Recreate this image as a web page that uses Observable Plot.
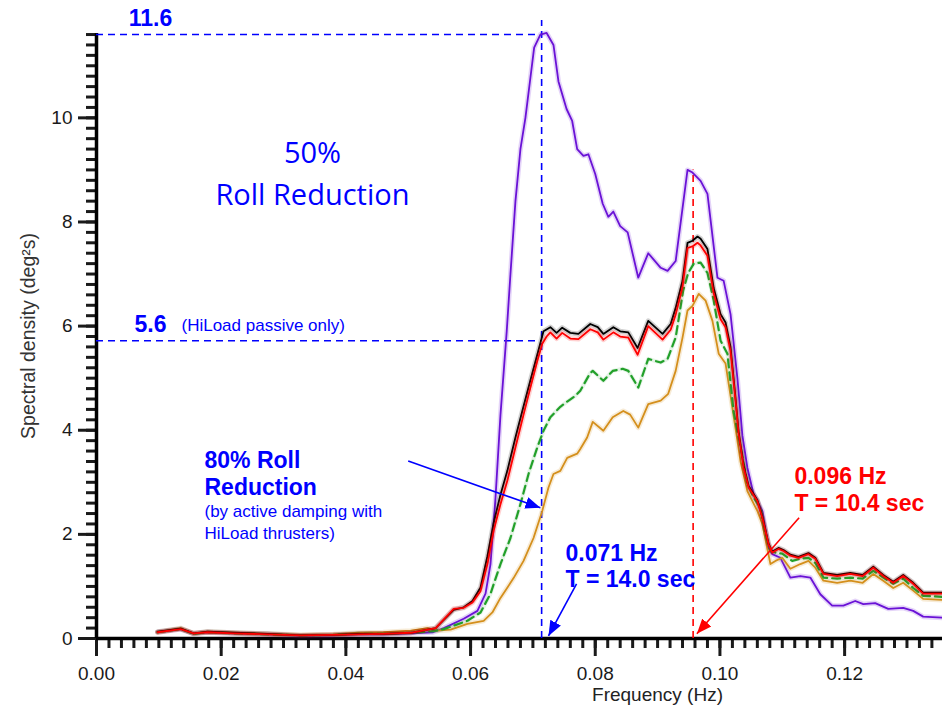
<!DOCTYPE html>
<html>
<head>
<meta charset="utf-8">
<script src="https://cdn.jsdelivr.net/npm/d3@7"></script>
<script src="https://cdn.jsdelivr.net/npm/@observablehq/plot@0.6"></script>
<style>
  html, body { margin: 0; padding: 0; background: #fff; }
  #chart { width: 942px; height: 715px; }
</style>
</head>
<body>
<div id="chart"></div>
<script>
// ---- data: [frequency (Hz), spectral density (deg^2 s)] ----
const noDamping = [[0.0098,0.12],[0.0135,0.18],[0.0156,0.09],[0.0178,0.12],[0.0220,0.10],[0.0274,0.08],[0.0327,0.05],[0.0380,0.06],[0.0420,0.08],[0.0460,0.08],[0.0504,0.10],[0.0540,0.12],[0.0557,0.20],[0.0589,0.38],[0.0611,0.53],[0.0624,0.86],[0.0632,1.43],[0.0640,2.70],[0.0648,4.30],[0.0658,5.90],[0.0664,7.00],[0.0672,8.40],[0.0680,9.40],[0.0688,10.00],[0.0696,10.77],[0.0702,11.35],[0.0712,11.60],[0.0722,11.63],[0.0733,11.40],[0.0741,10.70],[0.0754,10.17],[0.0763,9.94],[0.0771,9.40],[0.0781,9.27],[0.0789,9.30],[0.0800,8.92],[0.0812,8.35],[0.0821,8.10],[0.0829,8.20],[0.0840,7.92],[0.0852,7.80],[0.0869,6.93],[0.0885,7.40],[0.0905,7.12],[0.0916,7.06],[0.0929,7.25],[0.0948,9.00],[0.0956,8.95],[0.0969,8.79],[0.0980,8.54],[0.0996,6.93],[0.1006,6.87],[0.1017,6.23],[0.1028,5.00],[0.1036,3.90],[0.1044,3.28],[0.1054,2.77],[0.1068,2.45],[0.1078,1.74],[0.1084,1.62],[0.1097,1.55],[0.1113,1.17],[0.1129,1.20],[0.1145,1.17],[0.1161,0.85],[0.1180,0.63],[0.1198,0.63],[0.1217,0.72],[0.1230,0.66],[0.1249,0.68],[0.1270,0.57],[0.1294,0.59],[0.1310,0.53],[0.1326,0.42],[0.1357,0.40]];

const hiLoadPassive = [[0.0098,0.13],[0.0135,0.19],[0.0156,0.10],[0.0178,0.13],[0.0220,0.11],[0.0274,0.09],[0.0327,0.06],[0.0380,0.07],[0.0420,0.09],[0.0460,0.09],[0.0504,0.11],[0.0544,0.20],[0.0573,0.55],[0.0589,0.60],[0.0603,0.72],[0.0616,0.98],[0.0627,1.58],[0.0637,2.22],[0.0648,2.76],[0.0659,3.22],[0.0672,3.86],[0.0685,4.46],[0.0696,4.96],[0.0707,5.45],[0.0717,5.90],[0.0728,5.98],[0.0738,5.87],[0.0747,5.97],[0.0760,5.87],[0.0773,5.85],[0.0792,6.04],[0.0804,5.98],[0.0813,5.85],[0.0829,5.98],[0.0840,5.90],[0.0853,5.88],[0.0868,5.58],[0.0885,6.10],[0.0908,5.85],[0.0921,6.04],[0.0929,6.35],[0.0940,6.87],[0.0948,7.60],[0.0956,7.64],[0.0964,7.72],[0.0969,7.68],[0.0980,7.48],[0.0990,6.73],[0.1001,6.23],[0.1009,6.07],[0.1017,5.60],[0.1025,4.62],[0.1030,3.97],[0.1038,3.32],[0.1046,2.93],[0.1060,2.66],[0.1068,2.34],[0.1078,1.82],[0.1084,1.67],[0.1094,1.74],[0.1102,1.70],[0.1113,1.61],[0.1126,1.57],[0.1142,1.64],[0.1153,1.55],[0.1166,1.26],[0.1188,1.22],[0.1209,1.26],[0.1229,1.22],[0.1246,1.38],[0.1262,1.22],[0.1278,1.09],[0.1294,1.22],[0.1310,1.07],[0.1326,0.88],[0.1357,0.88]];

const activeRed = [[0.0098,0.12],[0.0135,0.18],[0.0156,0.10],[0.0178,0.12],[0.0220,0.10],[0.0274,0.08],[0.0327,0.06],[0.0380,0.07],[0.0420,0.08],[0.0460,0.09],[0.0504,0.11],[0.0544,0.20],[0.0573,0.57],[0.0589,0.59],[0.0603,0.69],[0.0616,0.91],[0.0627,1.43],[0.0637,2.07],[0.0648,2.58],[0.0659,3.03],[0.0672,3.67],[0.0685,4.30],[0.0696,4.82],[0.0707,5.33],[0.0715,5.66],[0.0722,5.80],[0.0728,5.88],[0.0738,5.76],[0.0747,5.87],[0.0760,5.76],[0.0773,5.75],[0.0792,5.94],[0.0804,5.88],[0.0813,5.74],[0.0829,5.88],[0.0840,5.80],[0.0853,5.78],[0.0868,5.45],[0.0885,6.00],[0.0908,5.74],[0.0921,5.93],[0.0929,6.22],[0.0940,6.75],[0.0948,7.50],[0.0956,7.53],[0.0964,7.60],[0.0969,7.55],[0.0980,7.35],[0.0990,6.63],[0.1001,6.13],[0.1009,5.98],[0.1017,5.52],[0.1025,4.57],[0.1030,3.93],[0.1038,3.28],[0.1046,2.90],[0.1060,2.64],[0.1068,2.32],[0.1078,1.81],[0.1084,1.65],[0.1094,1.72],[0.1102,1.68],[0.1113,1.59],[0.1126,1.55],[0.1142,1.62],[0.1153,1.53],[0.1166,1.24],[0.1188,1.20],[0.1209,1.24],[0.1229,1.20],[0.1246,1.36],[0.1262,1.20],[0.1278,1.07],[0.1294,1.20],[0.1310,1.05],[0.1326,0.86],[0.1357,0.86]];

const activeGreen = [[0.0098,0.12],[0.0135,0.18],[0.0156,0.09],[0.0178,0.12],[0.0220,0.10],[0.0274,0.08],[0.0327,0.06],[0.0380,0.07],[0.0420,0.09],[0.0460,0.09],[0.0504,0.11],[0.0540,0.14],[0.0557,0.18],[0.0595,0.34],[0.0616,0.50],[0.0632,0.86],[0.0648,1.43],[0.0664,1.93],[0.0680,2.58],[0.0693,3.16],[0.0707,3.67],[0.0717,3.99],[0.0728,4.25],[0.0744,4.45],[0.0755,4.55],[0.0768,4.66],[0.0776,4.76],[0.0792,5.10],[0.0796,5.14],[0.0813,4.95],[0.0828,5.14],[0.0844,5.18],[0.0853,5.14],[0.0869,4.82],[0.0885,5.37],[0.0905,5.30],[0.0916,5.37],[0.0929,5.78],[0.0941,6.68],[0.0949,7.02],[0.0958,7.20],[0.0969,7.22],[0.0980,7.02],[0.0990,6.49],[0.1001,5.72],[0.1012,5.47],[0.1022,4.35],[0.1036,3.50],[0.1044,2.97],[0.1054,2.71],[0.1065,2.51],[0.1073,2.01],[0.1081,1.68],[0.1089,1.65],[0.1100,1.63],[0.1116,1.49],[0.1129,1.53],[0.1142,1.55],[0.1153,1.45],[0.1166,1.17],[0.1188,1.15],[0.1209,1.17],[0.1229,1.15],[0.1246,1.30],[0.1262,1.17],[0.1278,1.05],[0.1294,1.15],[0.1310,0.97],[0.1326,0.82],[0.1357,0.80]];

const activeOrange = [[0.0098,0.12],[0.0135,0.20],[0.0156,0.09],[0.0178,0.13],[0.0220,0.11],[0.0274,0.09],[0.0327,0.07],[0.0380,0.08],[0.0420,0.11],[0.0460,0.12],[0.0504,0.15],[0.0531,0.20],[0.0545,0.15],[0.0568,0.17],[0.0595,0.28],[0.0621,0.34],[0.0635,0.50],[0.0648,0.78],[0.0669,1.16],[0.0685,1.49],[0.0701,1.93],[0.0715,2.45],[0.0725,2.90],[0.0733,3.16],[0.0744,3.22],[0.0755,3.47],[0.0771,3.55],[0.0776,3.64],[0.0787,3.86],[0.0796,4.16],[0.0813,3.99],[0.0828,4.25],[0.0845,4.37],[0.0856,4.30],[0.0869,4.05],[0.0885,4.50],[0.0905,4.57],[0.0917,4.70],[0.0929,5.14],[0.0940,5.78],[0.0948,6.30],[0.0956,6.39],[0.0966,6.62],[0.0977,6.49],[0.0988,6.10],[0.0998,5.47],[0.1009,5.28],[0.1020,4.43],[0.1033,3.40],[0.1044,2.83],[0.1060,2.45],[0.1068,2.20],[0.1081,1.43],[0.1089,1.49],[0.1100,1.55],[0.1113,1.34],[0.1129,1.43],[0.1142,1.49],[0.1153,1.36],[0.1166,1.11],[0.1188,1.07],[0.1209,1.11],[0.1229,1.07],[0.1246,1.24],[0.1262,1.11],[0.1278,0.97],[0.1294,1.07],[0.1310,0.92],[0.1326,0.76],[0.1357,0.74]];

// ---- axes ----
const xMajorTicks = [0, 0.02, 0.04, 0.06, 0.08, 0.10, 0.12];
const yMajorTicks = [0, 2, 4, 6, 8, 10];
const xMinorTicks = d3.range(0, 68).map(i => +(i * 0.002).toFixed(3));
const yMinorTicks = d3.range(0, 59).map(i => +(i * 0.2).toFixed(1));

// ---- annotations ----
const peakFreqs = [0.0714, 0.0957];        // Hz (blue, red)
const peakLevels = [11.6, 5.72];           // passive tank peak, HiLoad passive peak
const arrowsBlue = [
  {x1: 0.0500, y1: 3.41, x2: 0.0712, y2: 2.51},
  {x1: 0.0770, y1: 1.05, x2: 0.0725, y2: 0.05}
];
const arrowsRed = [{x1: 0.1127, y1: 2.32, x2: 0.0963, y2: 0.09}];

const BLUE = "#0000ff", RED = "#ff0000";
const FONT = "'Liberation Sans', Arial, Helvetica, sans-serif";

function filledArrow(color) {
  const ns = "http://www.w3.org/2000/svg";
  const m = document.createElementNS(ns, "marker");
  m.setAttribute("viewBox", "-10 -5 10 10");
  m.setAttribute("markerWidth", 15);
  m.setAttribute("markerHeight", 15);
  m.setAttribute("markerUnits", "userSpaceOnUse");
  m.setAttribute("orient", "auto");
  m.setAttribute("fill", color);
  m.setAttribute("stroke", "none");
  const p = document.createElementNS(ns, "path");
  p.setAttribute("d", "M-10,-4L0,0L-10,4Z");
  m.appendChild(p);
  return m;
}

const series = [
  {data: noDamping, color: "#6a12d6"},
  {data: activeOrange, color: "#d48f1c"},
  {data: hiLoadPassive, color: "#000000"},
  {data: activeRed, color: "#ff0000"},
];

const lineMarks = [];
for (const s of series) {
  lineMarks.push(Plot.line(s.data, {x: d => d[0], y: d => d[1], stroke: s.color, strokeWidth: 5, strokeOpacity: 0.18}));
  lineMarks.push(Plot.line(s.data, {x: d => d[0], y: d => d[1], stroke: s.color, strokeWidth: 1.8}));
}
// green dashed
lineMarks.splice(4, 0,
  Plot.line(activeGreen, {x: d => d[0], y: d => d[1], stroke: "#22a02a", strokeWidth: 4, strokeOpacity: 0.12}),
  Plot.line(activeGreen, {x: d => d[0], y: d => d[1], stroke: "#22a02a", strokeWidth: 2.2, strokeDasharray: "8,5"})
);

const plot = Plot.plot({
  width: 942,
  height: 715,
  marginLeft: 96,
  marginRight: 0,
  marginTop: 33,
  marginBottom: 77,
  x: {domain: [0, 0.1357]},
  y: {domain: [0, 11.62]},
  style: {fontFamily: FONT, fontSize: "19px", color: "#1a1a1a", background: "#fff", overflow: "visible"},
  marks: [
    // ticks
    Plot.axisX({ticks: xMinorTicks, tickSize: 10, strokeWidth: 3, tickFormat: () => "", label: null}),
    Plot.axisX({ticks: xMajorTicks, tickSize: 18, strokeWidth: 3, tickPadding: 10, tickFormat: d3.format(".2f"), label: null}),
    Plot.axisY({ticks: yMinorTicks, tickSize: 10, strokeWidth: 3, tickFormat: () => "", label: null}),
    Plot.axisY({ticks: yMajorTicks, tickSize: 18, strokeWidth: 3, tickPadding: 6, tickFormat: d3.format("d"), label: null}),
    Plot.ruleY([0], {stroke: "#000", strokeWidth: 3.5}),
    Plot.ruleX([0], {stroke: "#000", strokeWidth: 3.5}),
    // axis titles
    Plot.text(["Frequency (Hz)"], {frameAnchor: "bottom", dx: 138, dy: 62, fontSize: 19, fill: "#222"}),
    Plot.text(["Spectral density (deg²s)"], {frameAnchor: "left", textAnchor: "middle", dx: -68, rotate: -90, fontSize: 19.5, fill: "#333"}),
    // reference dashed lines
    Plot.ruleY([peakLevels[0]], {x1: 0, x2: peakFreqs[0], stroke: BLUE, strokeWidth: 1.6, strokeDasharray: "7,5"}),
    Plot.ruleY([peakLevels[1]], {x1: 0, x2: peakFreqs[0], stroke: BLUE, strokeWidth: 1.6, strokeDasharray: "7,5"}),
    Plot.ruleX([peakFreqs[0]], {y1: 0, y2: 11.87, stroke: BLUE, strokeWidth: 1.6, strokeDasharray: "7,5"}),
    Plot.ruleX([peakFreqs[1]], {y1: 0, y2: 9.0, stroke: RED, strokeWidth: 1.6, strokeDasharray: "7,5"}),
    // curves
    ...lineMarks,
    // arrows
    Plot.link(arrowsBlue, {x1: "x1", y1: "y1", x2: "x2", y2: "y2", stroke: BLUE, strokeWidth: 1.6, markerEnd: filledArrow}),
    Plot.link(arrowsRed, {x1: "x1", y1: "y1", x2: "x2", y2: "y2", stroke: RED, strokeWidth: 1.6, markerEnd: filledArrow}),
    // labels
    Plot.text(["11.6"], {x: 0.00866, y: 11.91, fontSize: 23, fontWeight: "bold", fill: BLUE}),
    Plot.text(["5.6"], {x: 0.00866, y: 6.03, fontSize: 23, fontWeight: "bold", fill: BLUE}),
    Plot.text(["(HiLoad passive only)"], {x: 0.01363, y: 6.01, textAnchor: "start", fontSize: 17, fill: BLUE}),
    Plot.text(["50%"], {x: 0.03464, y: 9.31, fontSize: 29, fill: BLUE, fontFamily: "'Open Sans', sans-serif"}),
    Plot.text(["Roll Reduction"], {x: 0.03464, y: 8.51, fontSize: 29, fill: BLUE, fontFamily: "'Open Sans', sans-serif"}),
    Plot.text(["80% Roll"], {x: 0.01732, y: 3.42, textAnchor: "start", fontSize: 23, fontWeight: "bold", fill: BLUE}),
    Plot.text(["Reduction"], {x: 0.01732, y: 2.90, textAnchor: "start", fontSize: 23, fontWeight: "bold", fill: BLUE}),
    Plot.text(["(by active damping with"], {x: 0.01732, y: 2.44, textAnchor: "start", fontSize: 17, fill: BLUE}),
    Plot.text(["HiLoad thrusters)"], {x: 0.01732, y: 2.02, textAnchor: "start", fontSize: 17, fill: BLUE}),
    Plot.text(["0.071 Hz"], {x: 0.07522, y: 1.63, textAnchor: "start", fontSize: 23, fontWeight: "bold", fill: BLUE}),
    Plot.text(["T = 14.0 sec"], {x: 0.07522, y: 1.13, textAnchor: "start", fontSize: 23, fontWeight: "bold", fill: BLUE}),
    Plot.text(["0.096 Hz"], {x: 0.11195, y: 3.11, textAnchor: "start", fontSize: 23, fontWeight: "bold", fill: RED}),
    Plot.text(["T = 10.4 sec"], {x: 0.11195, y: 2.59, textAnchor: "start", fontSize: 23, fontWeight: "bold", fill: RED})
  ]
});
document.getElementById("chart").appendChild(plot);
</script>
</body>
</html>
